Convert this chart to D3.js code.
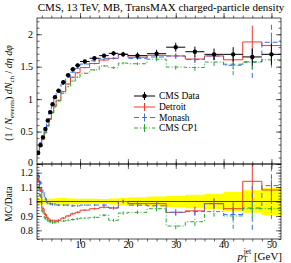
<!DOCTYPE html>
<html>
<head>
<meta charset="utf-8">
<script src="https://cdn.jsdelivr.net/npm/d3@7"></script>
<style>
    body { margin: 0; background: #fff; }
    svg text { font-family: "Liberation Serif", "DejaVu Serif", serif; fill: #000; }
</style>
</head>
<body>
<div id="chart"></div>
<script>
// bins in leading charged-jet pT [GeV]
const binEdges = [1, 1.5, 2, 2.5, 3, 3.5, 4, 4.5, 5, 6, 7, 8, 9, 10, 12, 14, 16, 18, 20, 24, 28, 32, 36, 40, 44, 48, 52];

// CMS data and its uncertainty
const dataVals = [0.17, 0.29, 0.41, 0.54, 0.67, 0.80, 0.92, 1.03, 1.13, 1.26, 1.37, 1.46, 1.52, 1.58, 1.63, 1.67, 1.705, 1.69, 1.67, 1.70, 1.80, 1.73, 1.69, 1.69, 1.65, 1.69];
const dataErr = [0.004, 0.006, 0.008, 0.011, 0.013, 0.016, 0.018, 0.021, 0.028, 0.032, 0.03, 0.03, 0.03, 0.03, 0.03, 0.03, 0.035, 0.04, 0.05, 0.06, 0.07, 0.08, 0.09, 0.11, 0.13, 0.16];

// MC / data ratios
const detroitRatio = [1.15, 1.08, 0.95, 0.91, 0.885, 0.87, 0.865, 0.865, 0.87, 0.885, 0.9, 0.915, 0.925, 0.94, 0.95, 0.96, 0.955, 1.0, 0.985, 0.985, 0.925, 0.935, 0.985, 0.95, 1.14, 1.08];
const monashRatio = [1.18, 1.13, 1.07, 1.02, 0.99, 0.985, 0.98, 0.98, 0.975, 0.975, 0.975, 0.97, 0.97, 0.975, 0.975, 0.975, 0.955, 1.0, 0.975, 0.97, 0.925, 0.93, 0.985, 0.91, 0.955, 1.11];
const cp1Ratio = [1.1, 1.04, 0.93, 0.885, 0.87, 0.86, 0.855, 0.855, 0.86, 0.865, 0.87, 0.875, 0.88, 0.885, 0.89, 0.905, 0.87, 0.92, 0.925, 0.95, 0.83, 0.86, 0.93, 0.9, 0.95, 0.95];

// MC stat errors (absolute, upper panel units)
const detroitErr = [0.003, 0.004, 0.005, 0.006, 0.007, 0.008, 0.009, 0.01, 0.008, 0.009, 0.01, 0.011, 0.012, 0.01, 0.012, 0.014, 0.017, 0.02, 0.02, 0.03, 0.04, 0.05, 0.06, 0.08, 0.25, 0.12];
const monashErr = [0.003, 0.004, 0.005, 0.006, 0.007, 0.008, 0.009, 0.01, 0.008, 0.009, 0.01, 0.011, 0.012, 0.01, 0.012, 0.014, 0.017, 0.02, 0.02, 0.03, 0.04, 0.05, 0.06, 0.08, 0.25, 0.3];
const cp1Err = [0.003, 0.004, 0.005, 0.006, 0.007, 0.008, 0.009, 0.01, 0.008, 0.009, 0.01, 0.011, 0.012, 0.01, 0.012, 0.014, 0.017, 0.02, 0.02, 0.03, 0.04, 0.05, 0.06, 0.15, 0.1, 0.12];

const legendNames = ["CMS Data", "Detroit", "Monash", "CMS CP1"];
const mainTicks = [0, 0.5, 1, 1.5, 2];
const ratioTicks = [0.8, 0.9, 1, 1.1, 1.2];
const xTicks = [10, 20, 30, 40, 50];

const width = 291, height = 263;
const plotLeft = 37, plotRight = 281, plotTop = 18, plotMid = 164, plotBottom = 239;

const svg = d3.select("#chart").append("svg")
    .attr("width", width)
    .attr("height", height);

const xScale = d3.scaleLinear().domain([1, 52]).range([plotLeft, plotRight]);
const yMain = d3.scaleLinear().domain([0, 2.25]).range([plotMid, plotTop]);
const yRatio = d3.scaleLinear().domain([0.74, 1.26]).range([plotBottom, plotMid]);

const series = [
    {ratio: detroitRatio, err: detroitErr, color: "#ee3b2b", dash: null},
    {ratio: monashRatio, err: monashErr, color: "#3a6cf4", dash: "5,3"},
    {ratio: cp1Ratio, err: cp1Err, color: "#2ea52e", dash: "4,2,1,2"}
];

const bins = dataVals.map((v, i) => ({
    lo: binEdges[i], hi: binEdges[i + 1], mid: (binEdges[i] + binEdges[i + 1]) / 2, val: v, err: dataErr[i]
}));

// clip regions
const defs = svg.append("defs");
defs.append("clipPath").attr("id", "clipMain").append("rect")
    .attr("x", plotLeft).attr("y", plotTop).attr("width", plotRight - plotLeft).attr("height", plotMid - plotTop);
defs.append("clipPath").attr("id", "clipRatio").append("rect")
    .attr("x", plotLeft).attr("y", plotMid).attr("width", plotRight - plotLeft).attr("height", plotBottom - plotMid);

function stepPoints(vals) {
    const pts = [];
    vals.forEach((v, i) => {
        pts.push([binEdges[i], v]);
        pts.push([binEdges[i + 1], v]);
    });
    return pts;
}

// ratio panel band
const gRatio = svg.append("g").attr("clip-path", "url(#clipRatio)");
const bandPts = [];
bins.forEach(b => {
    bandPts.push({x: b.lo, r: b.err / b.val});
    bandPts.push({x: b.hi, r: b.err / b.val});
});
gRatio.append("path")
    .datum(bandPts)
    .attr("fill", "#ffff00")
    .attr("d", d3.area()
        .x(d => xScale(d.x))
        .y0(d => yRatio(1 - d.r))
        .y1(d => yRatio(1 + d.r)));
gRatio.append("line")
    .attr("x1", plotLeft).attr("x2", plotRight)
    .attr("y1", yRatio(1)).attr("y2", yRatio(1))
    .attr("stroke", "#000").attr("stroke-width", 0.7);

const gMain = svg.append("g").attr("clip-path", "url(#clipMain)");

const lineMain = d3.line().x(d => xScale(d[0])).y(d => yMain(d[1]));
const lineRatio = d3.line().x(d => xScale(d[0])).y(d => yRatio(d[1]));

series.forEach(s => {
    const mcVals = s.ratio.map((r, i) => r * dataVals[i]);

    gMain.append("path")
        .datum(stepPoints(mcVals))
        .attr("fill", "none")
        .attr("stroke", s.color)
        .attr("stroke-width", 1)
        .attr("stroke-dasharray", s.dash)
        .attr("d", lineMain);
    gMain.selectAll(null)
        .data(bins)
        .join("line")
        .attr("x1", d => xScale(d.mid)).attr("x2", d => xScale(d.mid))
        .attr("y1", (d, i) => yMain(mcVals[i] - s.err[i]))
        .attr("y2", (d, i) => yMain(mcVals[i] + s.err[i]))
        .attr("stroke", s.color).attr("stroke-width", 1)
        .attr("stroke-dasharray", s.dash);

    gRatio.append("path")
        .datum(stepPoints(s.ratio))
        .attr("fill", "none")
        .attr("stroke", s.color)
        .attr("stroke-width", 1)
        .attr("stroke-dasharray", s.dash)
        .attr("d", lineRatio);
    gRatio.selectAll(null)
        .data(bins)
        .join("line")
        .attr("x1", d => xScale(d.mid)).attr("x2", d => xScale(d.mid))
        .attr("y1", (d, i) => yRatio(s.ratio[i] - s.err[i] / d.val))
        .attr("y2", (d, i) => yRatio(s.ratio[i] + s.err[i] / d.val))
        .attr("stroke", s.color).attr("stroke-width", 1)
        .attr("stroke-dasharray", s.dash);
});

// data points
const gData = gMain.append("g");
gData.selectAll(".xbar")
    .data(bins)
    .join("line")
    .attr("x1", d => xScale(d.lo)).attr("x2", d => xScale(d.hi))
    .attr("y1", d => yMain(d.val)).attr("y2", d => yMain(d.val))
    .attr("stroke", "#000").attr("stroke-width", 1);
gData.selectAll(".ybar")
    .data(bins)
    .join("line")
    .attr("x1", d => xScale(d.mid)).attr("x2", d => xScale(d.mid))
    .attr("y1", d => yMain(d.val - d.err)).attr("y2", d => yMain(d.val + d.err))
    .attr("stroke", "#000").attr("stroke-width", 1);
gData.selectAll("circle")
    .data(bins)
    .join("circle")
    .attr("cx", d => xScale(d.mid))
    .attr("cy", d => yMain(d.val))
    .attr("r", 2.2)
    .attr("fill", "#000");

// frames
[[plotTop, plotMid], [plotMid, plotBottom]].forEach(([t, b]) => {
    svg.append("rect")
        .attr("x", plotLeft).attr("y", t)
        .attr("width", plotRight - plotLeft).attr("height", b - t)
        .attr("fill", "none").attr("stroke", "#000").attr("stroke-width", 0.7);
});

// ticks (all inward)
function addAxis(axis, tx, ty, size, values, fmt) {
    const g = svg.append("g")
        .attr("transform", `translate(${tx},${ty})`)
        .attr("font-family", "Liberation Serif, DejaVu Serif, serif")
        .attr("font-size", 8)
        .call(axis.tickValues(values).tickSize(-size).tickPadding(4).tickFormat(fmt || ""));
    g.select(".domain").remove();
    g.selectAll(".tick line").attr("stroke-width", 0.6);
    return g;
}

const xMinor = d3.range(2, 52, 2);
const mainMinor = d3.range(0, 23).map(i => i * 0.1);
const ratioMinor = d3.range(37, 64).map(i => i * 0.02);

// main panel
const yMainG = addAxis(d3.axisLeft(yMain), plotLeft, 0, 5, mainTicks, d3.format(""));
addAxis(d3.axisLeft(yMain), plotLeft, 0, 2.5, mainMinor);
addAxis(d3.axisRight(yMain), plotRight, 0, 5, mainTicks);
addAxis(d3.axisRight(yMain), plotRight, 0, 2.5, mainMinor);
addAxis(d3.axisTop(xScale), 0, plotMid, 5, xTicks);
addAxis(d3.axisTop(xScale), 0, plotMid, 2.5, xMinor);
addAxis(d3.axisBottom(xScale), 0, plotTop, 5, xTicks);
addAxis(d3.axisBottom(xScale), 0, plotTop, 2.5, xMinor);
// lift the "0" a little so it clears the ratio panel's top label
yMainG.selectAll(".tick text").filter(d => d === 0).attr("y", -1.5);

// ratio panel
addAxis(d3.axisLeft(yRatio), plotLeft, 0, 5, ratioTicks, d3.format(""));
addAxis(d3.axisLeft(yRatio), plotLeft, 0, 2.5, ratioMinor);
addAxis(d3.axisRight(yRatio), plotRight, 0, 5, ratioTicks);
addAxis(d3.axisRight(yRatio), plotRight, 0, 2.5, ratioMinor);
addAxis(d3.axisBottom(xScale), 0, plotMid, 5, xTicks);
addAxis(d3.axisBottom(xScale), 0, plotMid, 2.5, xMinor);
const xAxisG = addAxis(d3.axisTop(xScale), 0, plotBottom, 5, xTicks, d3.format(""));
addAxis(d3.axisTop(xScale), 0, plotBottom, 2.5, xMinor);
// put x tick labels just below the axis line
xAxisG.selectAll(".tick text").attr("y", 1.5).attr("dy", "0.71em");

// title
svg.append("text")
    .attr("x", (plotLeft + plotRight) / 2 + 2)
    .attr("y", 11)
    .attr("text-anchor", "middle")
    .attr("font-size", 11)
    .text("CMS, 13 TeV, MB, TransMAX charged-particle density");

// y label main
const yLab = svg.append("text")
    .attr("transform", "translate(12,93) rotate(-90)")
    .attr("text-anchor", "middle")
    .attr("font-size", 10);
yLab.append("tspan").text("(1 / ");
yLab.append("tspan").attr("font-style", "italic").text("N");
yLab.append("tspan").attr("font-size", 7).attr("dy", 2).text("events");
yLab.append("tspan").attr("dy", -2).text(") ");
yLab.append("tspan").attr("font-style", "italic").text("dN");
yLab.append("tspan").attr("font-size", 7).attr("dy", 2).text("ch");
yLab.append("tspan").attr("dy", -2).text(" / ");
yLab.append("tspan").attr("font-style", "italic").text("dη dφ");

// y label ratio
svg.append("text")
    .attr("transform", "translate(12,204) rotate(-90)")
    .attr("text-anchor", "middle")
    .attr("font-size", 9.5)
    .text("MC/Data");

// x label
const xLab = svg.append("text")
    .attr("x", plotRight + 1)
    .attr("y", 259.5)
    .attr("text-anchor", "end")
    .attr("font-size", 11);
xLab.append("tspan").attr("font-style", "italic").text("p");
xLab.append("tspan").attr("font-size", 7.5).attr("dy", 2.5).text("T");
xLab.append("tspan").attr("font-size", 7.5).attr("dx", -4).attr("dy", -8).text("jet");
xLab.append("tspan").attr("dy", 5.5).text(" [GeV]");

// legend
const legendY = [96, 107, 117.5, 128];
const legend = svg.append("g");
legendNames.forEach((name, i) => {
    const y = legendY[i];
    const s = i === 0 ? {color: "#000", dash: null} : series[i - 1];
    legend.append("line")
        .attr("x1", 134).attr("x2", 155)
        .attr("y1", y).attr("y2", y)
        .attr("stroke", s.color).attr("stroke-width", 1)
        .attr("stroke-dasharray", s.dash);
    legend.append("line")
        .attr("x1", 144.5).attr("x2", 144.5)
        .attr("y1", y - 4).attr("y2", y + 4)
        .attr("stroke", s.color).attr("stroke-width", 1);
    if (i === 0) {
        legend.append("circle").attr("cx", 144.5).attr("cy", y).attr("r", 2.2).attr("fill", "#000");
    }
    legend.append("text")
        .attr("x", 159)
        .attr("y", y + 3.3)
        .attr("font-size", 9.5)
        .text(name);
});
</script>
</body>
</html>
